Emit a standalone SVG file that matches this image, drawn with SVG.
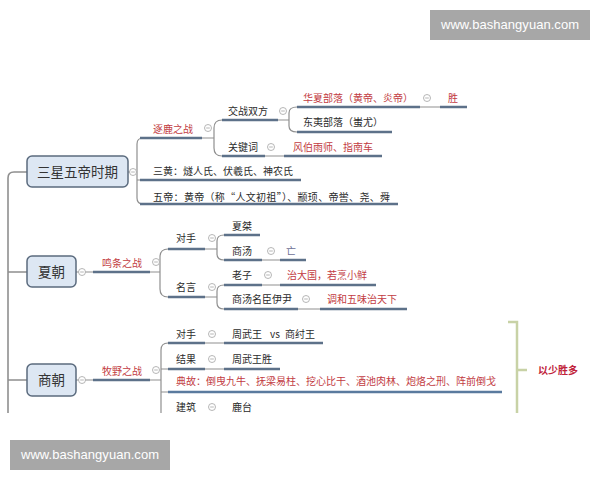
<svg xmlns="http://www.w3.org/2000/svg" xmlns:xlink="http://www.w3.org/1999/xlink" width="600" height="480" viewBox="0 0 600 480">
<style>
.t{font-family:"Noto Sans CJK SC","Noto Sans",sans-serif;font-size:10px;fill:#2b2b2b}
.r{fill:#c23b42}
.bt{font-family:"Noto Sans CJK SC","Noto Sans",sans-serif;font-size:13.5px;fill:#333;text-anchor:middle}
.box{fill:#dde7f3;stroke:#5b6b7e;stroke-width:1.5}
.ul{stroke:#5d7189;stroke-width:2.5;fill:none}
.ulb{stroke:#5a7a9e;stroke-width:2.5;fill:none}
.cn{stroke:#8f8f8f;stroke-width:1.2;fill:none}
.sp{stroke:#8f8f8f;stroke-width:1.6;fill:none}
.wm{fill:#a7a7a7}
.wt{font-family:"Liberation Sans",Arial,sans-serif;font-size:13px;fill:#fff}
</style>
<defs>
<g id="m"><circle r="3.5" fill="#fff" stroke="#a3a3a3" stroke-width="0.8"/><path d="M-1.8,0H1.8" stroke="#a3a3a3" stroke-width="0.8"/></g>
</defs>
<rect width="600" height="480" fill="#fff"/>

<g id="connectors">
<path class="sp" d="M27,172H14Q8,172 8,178V413"/>
<path class="sp" d="M8,272H27M8,380H27"/>
<path class="cn" d="M128,172H137M150,138H143Q137,138 137,144V198Q137,204 143,204H150M137,180H150"/>
<path class="cn" d="M202,138H214M222,120Q214,120 214,128V148Q214,156 222,156"/>
<path class="cn" d="M278,120H289M297,107Q289,107 289,113V126Q289,132 297,132"/>
<path class="cn" d="M420,107H440M265,156H284"/>
<path class="cn" d="M76,272H160M168,249Q160,249 160,257V289Q160,297 168,297"/>
<path class="cn" d="M205,249H217M224,235Q217,235 217,241V254Q217,260 224,260"/>
<path class="cn" d="M205,297H217M224,285Q217,285 217,291V303Q217,309 224,309"/>
<path class="cn" d="M262,260H280M262,285H280M298,309H320"/>
<path class="cn" d="M76,380H161M168,343Q161,343 161,350V413M161,369H168M161,392H168"/>
<path class="cn" d="M205,343H224M205,369H224"/>
</g>

<g id="n-sanhuang-period"><rect class="box" x="27" y="156" width="101" height="31" rx="5"/><text class="bt" x="77.5" y="176.5">三星五帝时期</text><use xlink:href="#m" x="133" y="172"/></g>
<g id="n-zhulu"><path class="ul" d="M140,138H202"/><text class="t r" x="153" y="132.5">逐鹿之战</text><use xlink:href="#m" x="208" y="128"/></g>
<g id="n-jiaozhan"><path class="ul" d="M222,120H278"/><text class="t" x="228" y="114.5">交战双方</text><use xlink:href="#m" x="283" y="111"/></g>
<g id="n-huaxia"><path class="ul" d="M297,107H420"/><text class="t r" x="303" y="101.5">华夏部落（黄帝、炎帝）</text><use xlink:href="#m" x="427" y="98"/></g>
<g id="n-sheng"><path class="ul" d="M440,107H467"/><text class="t r" x="448" y="101.5">胜</text></g>
<g id="n-dongyi"><path class="ul" d="M297,132H392"/><text class="t" x="303" y="126">东夷部落（蚩尤）</text></g>
<g id="n-guanjianci"><path class="ul" d="M222,156H265"/><text class="t" x="228" y="150.5">关键词</text><use xlink:href="#m" x="271" y="147"/></g>
<g id="n-fengbo"><path class="ul" d="M284,156H382"/><text class="t r" x="293" y="150.5">风伯雨师、指南车</text></g>
<g id="n-sanhuang"><path class="ul" d="M140,180H301"/><text class="t" x="153" y="174.5">三黄：燧人氏、伏羲氏、神农氏</text></g>
<g id="n-wudi"><path class="ul" d="M140,204H398"/><text class="t" x="153" y="200.5" textLength="237" lengthAdjust="spacing">五帝：黄帝（称“人文初祖”）、颛顼、帝喾、尧、舜</text></g>

<g id="n-xia"><rect class="box" x="27" y="256" width="49" height="31" rx="5"/><text class="bt" x="51.5" y="276.5">夏朝</text><use xlink:href="#m" x="82" y="272"/></g>
<g id="n-mingtiao"><path class="ul" d="M93,272H150"/><text class="t r" x="102" y="266.5">鸣条之战</text><use xlink:href="#m" x="156" y="262"/></g>
<g id="n-xia-duishou"><path class="ul" d="M168,249H205"/><text class="t" x="176" y="242">对手</text><use xlink:href="#m" x="212" y="238"/></g>
<g id="n-xiajie"><path class="ul" d="M224,235H260"/><text class="t" x="232" y="229.5">夏桀</text></g>
<g id="n-shangtang"><path class="ul" d="M224,260H262"/><text class="t" x="232" y="255">商汤</text><use xlink:href="#m" x="271" y="251"/></g>
<g id="n-wang"><path class="ul" d="M280,260H306"/><text class="t" x="286" y="255" style="fill:#6d6f95">亡</text></g>
<g id="n-mingyan"><path class="ul" d="M168,297H205"/><text class="t" x="176" y="290.5">名言</text><use xlink:href="#m" x="212" y="287"/></g>
<g id="n-laozi"><path class="ul" d="M224,285H262"/><text class="t" x="232" y="278.5">老子</text><use xlink:href="#m" x="268" y="275"/></g>
<g id="n-zhidaguo"><path class="ul" d="M280,285H376"/><text class="t r" x="287" y="278.5">治大国，若烹小鲜</text></g>
<g id="n-yiyin"><path class="ul" d="M224,309H298"/><text class="t" x="232" y="302.5">商汤名臣伊尹</text><use xlink:href="#m" x="306" y="299"/></g>
<g id="n-tiaohe"><path class="ul" d="M320,309H407"/><text class="t r" x="327" y="302.5">调和五味治天下</text></g>

<g id="n-shang"><rect class="box" x="27" y="364" width="49" height="32" rx="5"/><text class="bt" x="51.5" y="385">商朝</text><use xlink:href="#m" x="82" y="380"/></g>
<g id="n-muye"><path class="ul" d="M93,380H150"/><text class="t r" x="102" y="374.5">牧野之战</text><use xlink:href="#m" x="156" y="370"/></g>
<g id="n-shang-duishou"><path class="ul" d="M168,343H205"/><text class="t" x="176" y="337.5">对手</text><use xlink:href="#m" x="212" y="334"/></g>
<g id="n-wuwang-vs"><path class="ul" d="M224,343H323"/><text class="t" x="232" y="337.5">周武王<tspan x="270">vs</tspan><tspan x="285">商纣王</tspan></text></g>
<g id="n-jieguo"><path class="ul" d="M168,369H205"/><text class="t" x="176" y="362.5">结果</text><use xlink:href="#m" x="212" y="359"/></g>
<g id="n-wuwangsheng"><path class="ul" d="M224,369H280"/><text class="t" x="232" y="362.5">周武王胜</text></g>
<g id="n-diangu"><path class="ulb" d="M168,392H502"/><text class="t r" x="176" y="384.5">典故：倒曳九牛、抚梁易柱、挖心比干、酒池肉林、炮烙之刑、阵前倒戈</text></g>
<g id="n-jianzhu"><text class="t" x="176" y="410.5">建筑</text><use xlink:href="#m" x="212" y="407"/></g>
<g id="n-lutai"><text class="t" x="232" y="410.5">鹿台</text></g>

<g id="n-bracket"><path d="M508,322H517V413M517,370H527" fill="none" stroke="#c8d2a6" stroke-width="2.5"/><text class="t" x="538" y="374" style="fill:#c0223a;font-weight:bold">以少胜多</text></g>

<g id="watermark-top"><rect class="wm" x="430" y="10" width="160" height="30"/><text class="wt" x="441" y="29" textLength="138">www.bashangyuan.com</text></g>
<g id="watermark-bottom"><rect class="wm" x="10" y="440" width="160" height="30"/><text class="wt" x="21" y="459" textLength="138">www.bashangyuan.com</text></g>
</svg>
